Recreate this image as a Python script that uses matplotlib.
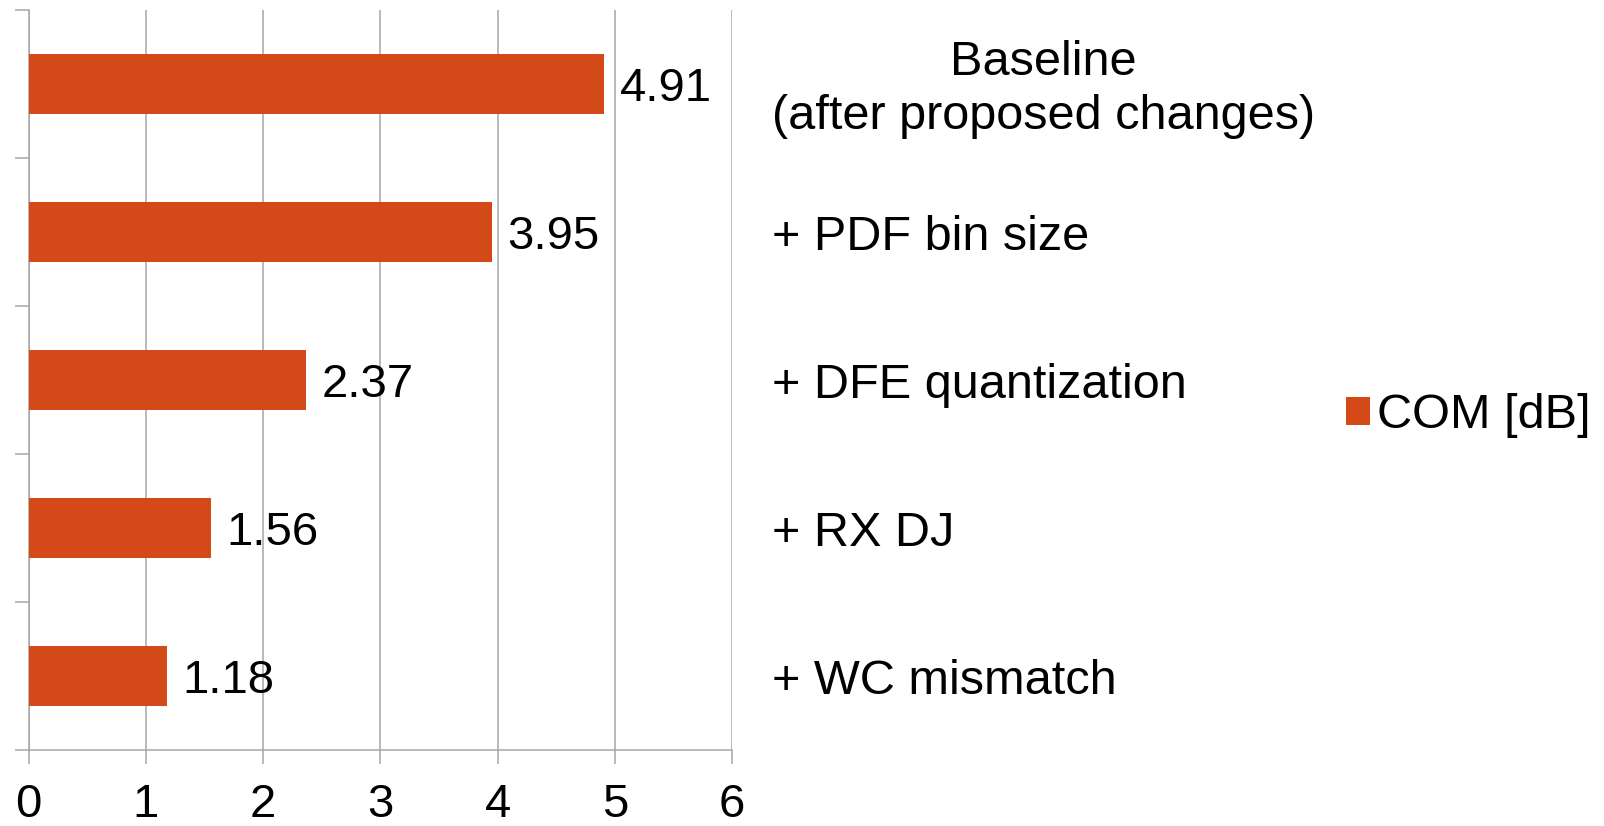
import matplotlib
matplotlib.use("Agg")
import matplotlib.pyplot as plt
from matplotlib.patches import Rectangle
from matplotlib.transforms import ScaledTranslation

# Data
categories = [
    "Baseline\n(after proposed changes)",
    "+ PDF bin size",
    "+ DFE quantization",
    "+ RX DJ",
    "+ WC mismatch",
]
com_db = [4.91, 3.95, 2.37, 1.56, 1.18]
value_labels = ["4.91", "3.95", "2.37", "1.56", "1.18"]
x_ticks = [0, 1, 2, 3, 4, 5, 6]
series_name = "COM [dB]"

bar_color = "#D34A18"
grid_color = "#A6A6A6"

plt.rcParams["font.family"] = ["Liberation Sans", "DejaVu Sans"]

fig = plt.figure(figsize=(16.04, 8.26), dpi=100)
ax = fig.add_axes([0.0178, 0.092, 0.4386, 0.8958])

pos = list(range(len(categories)))
ax.barh(pos, com_db, height=0.4, color=bar_color, zorder=3)

for p, v, lab in zip(pos, com_db, value_labels):
    ax.annotate(lab, xy=(v, p), xytext=(11, 0), textcoords="offset points",
                ha="left", va="center_baseline", fontsize=34, color="black", zorder=4)

ax.set_xlim(0, 6)
ax.set_ylim(len(categories) - 0.5, -0.5)
ax.set_xticks(x_ticks)
ax.set_xticklabels([str(t) for t in x_ticks], fontsize=34)
ax.xaxis.grid(True, color=grid_color, linewidth=1.1, zorder=0)

# Category labels on the right, boundary ticks on the left
ax.set_yticks(pos)
ax.set_yticklabels(categories, fontsize=35)
ax.set_yticks([p + 0.5 for p in [-1] + pos], minor=True)
ax.tick_params(axis="y", which="major", left=False, right=False,
               labelleft=False, labelright=True, pad=25)
ax.tick_params(axis="y", which="minor", left=True, length=10,
               width=1.1, color=grid_color)
ax.tick_params(axis="x", which="major", length=10, width=1.1,
               color=grid_color, pad=13.5)
for lbl in ax.get_yticklabels():
    lbl.set_multialignment("center")
    lbl.set_linespacing(1.25)
    if "\n" in lbl.get_text():
        lbl.set_transform(lbl.get_transform()
                          + ScaledTranslation(0, 3 / 72, fig.dpi_scale_trans))

for side in ("top", "right"):
    ax.spines[side].set_visible(False)
for side in ("left", "bottom"):
    ax.spines[side].set_color(grid_color)
    ax.spines[side].set_linewidth(1.1)

handle = Rectangle((0, 0), 1, 1, facecolor=bar_color, edgecolor="none")
fig.legend([handle], [series_name], loc="center left",
           bbox_to_anchor=(0.839, 0.497), frameon=False, fontsize=35,
           handlelength=0.5, handleheight=0.5, handletextpad=0.15,
           borderpad=0, borderaxespad=0)

fig.savefig("out.png", dpi=100, facecolor="white")
